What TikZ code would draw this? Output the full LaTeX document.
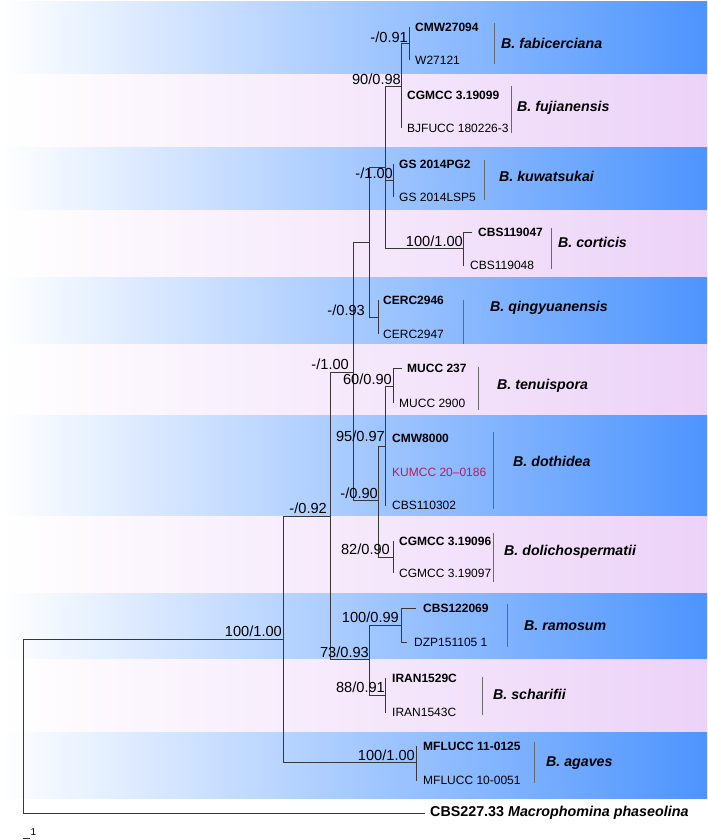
\documentclass[tikz,border=0pt]{standalone}
\usepackage{fontspec}
\setmainfont{Liberation Sans}
\usepackage{xcolor}
\usetikzlibrary{positioning}

\definecolor{bandblue}{RGB}{77,148,255}
\definecolor{bandpink}{RGB}{236,210,248}
\definecolor{treeline}{RGB}{55,55,55}
\definecolor{barline}{RGB}{105,105,105}
\definecolor{newstrain}{RGB}{176,32,90}

\begin{document}
\begin{tikzpicture}[
  x=1pt, y=-1pt,
  branch/.style={draw=treeline, line width=0.85pt},
  cbar/.style={draw=barline, line width=0.8pt},
  blueband/.style={left color=white, right color=bandblue, draw=none},
  pinkband/.style={left color=white, right color=bandpink, draw=none},
  leaf/.style={anchor=west, inner sep=0pt, font=\fontsize{12}{12}\selectfont},
  typeleaf/.style={leaf, font=\fontsize{12}{12}\selectfont\bfseries},
  sup/.style={anchor=south east, inner sep=0pt, font=\fontsize{14.6}{15}\selectfont},
  species/.style={anchor=west, inner sep=0pt, font=\fontsize{14.2}{15}\selectfont\bfseries\itshape},
]
\useasboundingbox (0,0) rectangle (708,840);

% species bands
\shade[blueband] (0,2) rectangle (707,75);
\shade[pinkband] (0,75) rectangle (707,147);
\shade[blueband] (0,147) rectangle (707,210);
\shade[pinkband] (0,210) rectangle (707,277);
\shade[blueband] (0,277) rectangle (707,344);
\shade[pinkband] (0,344) rectangle (707,415);
\shade[blueband] (0,415) rectangle (707,516);
\shade[pinkband] (0,516) rectangle (707,593);
\shade[blueband] (0,593) rectangle (707,659);
\shade[pinkband] (0,659) rectangle (707,732);
\shade[blueband] (0,732) rectangle (707,798);

% internal nodes
\coordinate (root) at (23,726);
\coordinate (n283) at (283,639);
\coordinate (n330) at (330,516);
\coordinate (n353) at (353,372);
\coordinate (n369) at (369,242);
\coordinate (n385) at (385,167);
\coordinate (n401) at (401,86);
\coordinate (nFab) at (409,43);
\coordinate (nKuw) at (393,180);
\coordinate (nCor) at (463,248);
\coordinate (nQin) at (378,317);
\coordinate (n378) at (378,500);
\coordinate (nDot) at (385,446);
\coordinate (nTen) at (393,386);
\coordinate (nDol) at (393,557);
\coordinate (n369b) at (369,659);
\coordinate (nRam) at (401,625);
\coordinate (nSch) at (385,695);
\coordinate (nAga) at (416,762);

% tips
\coordinate (t1) at (409,27);
\coordinate (t2) at (409,60);
\coordinate (t3) at (401,95);
\coordinate (t4) at (401,128);
\coordinate (t5) at (393,164);
\coordinate (t6) at (393,197);
\coordinate (t7) at (472,232);
\coordinate (t8) at (464,265);
\coordinate (t9) at (378,300);
\coordinate (t10) at (378,334);
\coordinate (t11) at (402,368);
\coordinate (t12) at (393,403);
\coordinate (t13) at (386,438);
\coordinate (t14) at (386,472);
\coordinate (t15) at (386,505);
\coordinate (t16) at (393,541);
\coordinate (t17) at (393,573);
\coordinate (t18) at (416,608);
\coordinate (t19) at (407,642);
\coordinate (t20) at (386,678);
\coordinate (t21) at (386,712);
\coordinate (t22) at (417,746);
\coordinate (t23) at (417,780);
\coordinate (tOut) at (425,813);

% tree
\draw[branch] (root) |- (n283);
\draw[branch] (root) |- (tOut);
\draw[branch] (n283) |- (n330);
\draw[branch] (n283) |- (nAga);
\draw[branch] (n330) |- (n353);
\draw[branch] (n330) |- (n369b);
\draw[branch] (n353) |- (n369);
\draw[branch] (n353) |- (n378);
\draw[branch] (n369) |- (n385);
\draw[branch] (n369) |- (nQin);
\draw[branch] (n385) |- (n401);
\draw[branch] (n385) |- (nKuw);
\draw[branch] (n385) |- (nCor);
\draw[branch] (n401) |- (nFab);
\draw[branch] (n401) |- (t3);
\draw[branch] (n401) |- (t4);
\draw[branch] (nFab) |- (t1);
\draw[branch] (nFab) |- (t2);
\draw[branch] (nKuw) |- (t5);
\draw[branch] (nKuw) |- (t6);
\draw[branch] (nCor) |- (t7);
\draw[branch] (nCor) |- (t8);
\draw[branch] (nQin) |- (t9);
\draw[branch] (nQin) |- (t10);
\draw[branch] (n378) |- (nDot);
\draw[branch] (n378) |- (nDol);
\draw[branch] (nDot) |- (nTen);
\draw[branch] (nDot) |- (t13);
\draw[branch] (nDot) |- (t14);
\draw[branch] (nDot) |- (t15);
\draw[branch] (nTen) |- (t11);
\draw[branch] (nTen) |- (t12);
\draw[branch] (nDol) |- (t16);
\draw[branch] (nDol) |- (t17);
\draw[branch] (n369b) |- (nRam);
\draw[branch] (n369b) |- (nSch);
\draw[branch] (nRam) |- (t18);
\draw[branch] (nRam) |- (t19);
\draw[branch] (nSch) |- (t20);
\draw[branch] (nSch) |- (t21);
\draw[branch] (nAga) |- (t22);
\draw[branch] (nAga) |- (t23);

% strains
\node[typeleaf, right=6pt of t1] (CMW27094) {CMW27094};
\node[leaf, right=6pt of t2] (W27121) {W27121};
\node[typeleaf, right=6pt of t3] (CGMCC319099) {CGMCC 3.19099};
\node[leaf, right=6pt of t4] (BJFUCC) {BJFUCC 180226-3};
\node[typeleaf, right=6pt of t5] (GSPG2) {GS 2014PG2};
\node[leaf, right=6pt of t6] (GSLSP5) {GS 2014LSP5};
\node[typeleaf, right=6pt of t7] (CBS119047) {CBS119047};
\node[leaf, right=6pt of t8] (CBS119048) {CBS119048};
\node[typeleaf, right=5pt of t9] (CERC2946) {CERC2946};
\node[leaf, right=5pt of t10] (CERC2947) {CERC2947};
\node[typeleaf, right=5pt of t11] (MUCC237) {MUCC 237};
\node[leaf, right=6pt of t12] (MUCC2900) {MUCC 2900};
\node[typeleaf, right=6pt of t13] (CMW8000) {CMW8000};
\node[leaf, right=6pt of t14, text=newstrain] (KUMCC) {KUMCC 20--0186};
\node[leaf, right=6pt of t15] (CBS110302) {CBS110302};
\node[typeleaf, right=6pt of t16] (CGMCC319096) {CGMCC 3.19096};
\node[leaf, right=6pt of t17] (CGMCC319097) {CGMCC 3.19097};
\node[typeleaf, right=7pt of t18] (CBS122069) {CBS122069};
\node[leaf, right=7pt of t19] (DZP) {DZP151105 1};
\node[typeleaf, right=6pt of t20] (IRAN1529C) {IRAN1529C};
\node[leaf, right=6pt of t21] (IRAN1543C) {IRAN1543C};
\node[typeleaf, right=6pt of t22] (MFLUCC110125) {MFLUCC 11-0125};
\node[leaf, right=6pt of t23] (MFLUCC100051) {MFLUCC 10-0051};
\node[anchor=west, inner sep=0pt, right=5pt of tOut, font=\fontsize{14.3}{15}\selectfont\bfseries] (outgroup) {CBS227.33 \textit{Macrophomina phaseolina}};

% support values
\node[sup] (s1) at (408,43) {-/0.91};
\node[sup] (s2) at (401,85) {90/0.98};
\node[sup] (s3) at (393,179) {-/1.00};
\node[sup] (s4) at (463,247) {100/1.00};
\node[sup] (s5) at (365,316) {-/0.93};
\node[sup] (s6) at (349,370) {-/1.00};
\node[sup] (s7) at (392,385) {60/0.90};
\node[sup] (s8) at (385,442) {95/0.97};
\node[sup] (s9) at (378,499) {-/0.90};
\node[sup] (s10) at (327,514) {-/0.92};
\node[sup] (s11) at (390,555) {82/0.90};
\node[sup] (s12) at (399,623) {100/0.99};
\node[sup] (s13) at (369,658) {73/0.93};
\node[sup] (s14) at (385,693) {88/0.91};
\node[sup] (s15) at (415,761) {100/1.00};
\node[sup] (s16) at (282,637) {100/1.00};

% clade bars and names
\draw[cbar] (494,23) -- (494,64);
\node[species] (fab) at (501,43) {B. fabicerciana};
\draw[cbar] (511,86) -- (511,133);
\node[species] (fuj) at (517,108) {B. fujianensis};
\draw[cbar] (484,160) -- (484,200);
\node[species] (kuw) at (499,176) {B. kuwatsukai};
\draw[cbar] (551,228) -- (551,269);
\node[species] (cor) at (558,242) {B. corticis};
\draw[cbar] (463,300) -- (463,344);
\node[species] (qin) at (490,308) {B. qingyuanensis};
\draw[cbar] (478,367) -- (478,410);
\node[species] (ten) at (497,386) {B. tenuispora};
\draw[cbar] (493,432) -- (493,509);
\node[species] (dot) at (513,461) {B. dothidea};
\draw[cbar] (493,533) -- (493,582);
\node[species] (dol) at (504,552) {B. dolichospermatii};
\draw[cbar] (507,604) -- (507,647);
\node[species] (ram) at (524,626) {B. ramosum};
\draw[cbar] (482,677) -- (482,715);
\node[species] (sch) at (493,694) {B. scharifii};
\draw[cbar] (534,742) -- (534,783);
\node[species] (aga) at (546,763) {B. agaves};

% scale
\coordinate (sc1) at (23,838);
\coordinate (sc2) at (30,838);
\draw[branch, line width=0.7pt] (sc1) -- (sc2);
\node[anchor=south west, inner sep=0pt, font=\fontsize{10}{10}\selectfont] (sclabel) at (30.5,836) {1};
\end{tikzpicture}
\end{document}
